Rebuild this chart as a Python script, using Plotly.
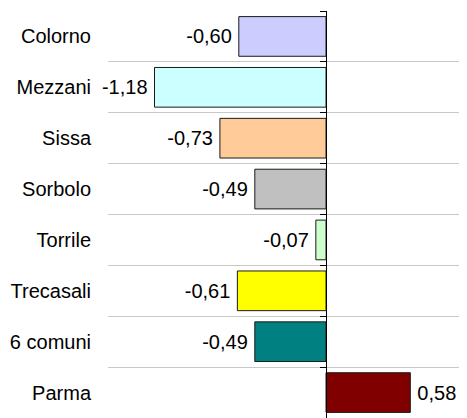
import plotly.graph_objects as go

categories = ["Colorno", "Mezzani", "Sissa", "Sorbolo", "Torrile", "Trecasali", "6 comuni", "Parma"]
values = [-0.60, -1.18, -0.73, -0.49, -0.07, -0.61, -0.49, 0.58]
bar_colors = ["#CCCCFF", "#CCFFFF", "#FFCC99", "#C0C0C0", "#CCFFCC", "#FFFF00", "#008080", "#800000"]

PAD = "\u2009"
labels = [(f"{v:.2f}".replace(".", ",") + PAD) if v < 0 else (PAD + f"{v:.2f}".replace(".", ","))
          for v in values]

X_RANGE = [-1.5, 0.97]
Y_RANGE = [len(categories) - 0.5, -0.5]
zero_pos = (0 - X_RANGE[0]) / (X_RANGE[1] - X_RANGE[0])

FONT = "Arial, Liberation Sans, sans-serif"

fig = go.Figure()
fig.add_trace(go.Bar(
    x=values, y=categories, orientation="h",
    marker=dict(color=bar_colors, line=dict(color="#1a1a1a", width=1)),
    text=labels, textposition="outside", cliponaxis=False, constraintext="none",
    textfont=dict(family=FONT, size=20, color="black"),
    showlegend=False, hoverinfo="skip",
))
fig.add_trace(go.Scatter(
    x=[0] * len(categories), y=categories, yaxis="y2", mode="markers",
    marker=dict(opacity=0), showlegend=False, hoverinfo="skip",
))

# the page body adds an 8px offset, so the figure is sized to fill the rest of the window
fig.update_layout(
    width=459, height=410,
    margin=dict(l=100, r=0, t=3, b=0, autoexpand=False),
    paper_bgcolor="white", plot_bgcolor="white",
    bargap=0.22,
    font=dict(family=FONT, size=20, color="black"),
    xaxis=dict(range=X_RANGE, showgrid=False, zeroline=False, showticklabels=False,
               showline=False, ticks="", automargin=False),
    yaxis=dict(type="category", categoryorder="array", categoryarray=categories,
               range=Y_RANGE, tickson="boundaries", showgrid=True, automargin=False,
               gridcolor="#C8C8C8", gridwidth=1, ticks="", showline=False,
               ticklabelstandoff=16, tickfont=dict(family=FONT, size=20, color="black")),
    yaxis2=dict(type="category", categoryorder="array", categoryarray=categories,
                range=Y_RANGE, overlaying="y", anchor="free", position=zero_pos,
                side="left", tickson="boundaries", showgrid=False, automargin=False,
                showline=True, linecolor="black", linewidth=1,
                ticks="outside", ticklen=6, tickcolor="black", tickwidth=1,
                showticklabels=False),
)

fig.write_html("out.html")
